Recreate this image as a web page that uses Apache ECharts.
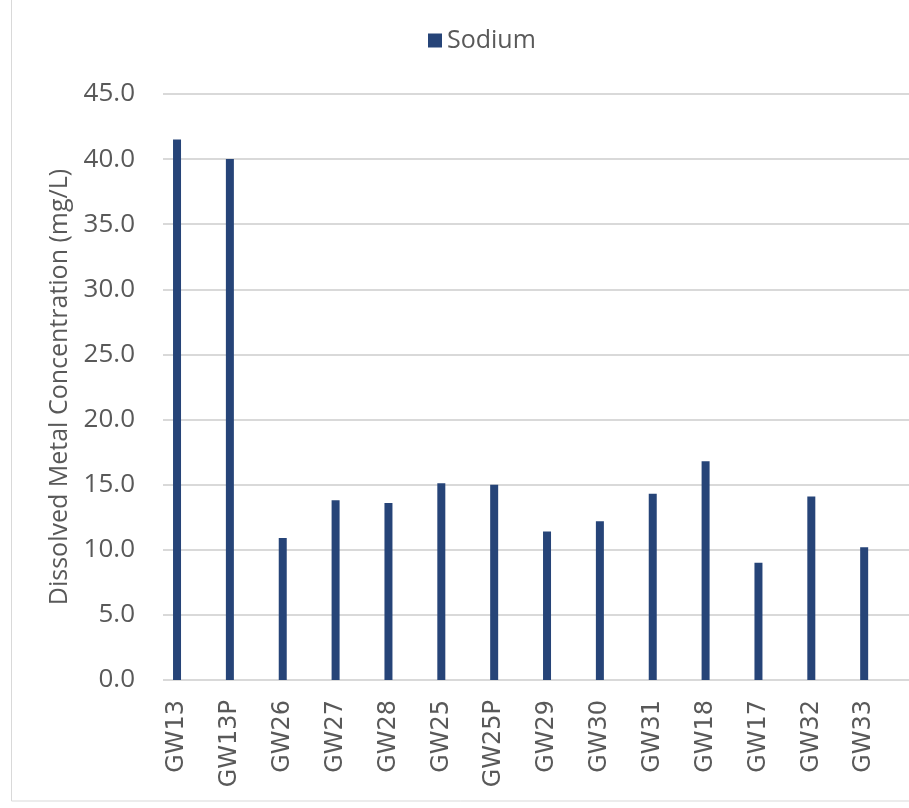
<!DOCTYPE html>
<html>
<head>
<meta charset="utf-8">
<title>Sodium</title>
<script src="https://cdn.jsdelivr.net/npm/echarts@6/dist/echarts.min.js"></script>
<style>
  html, body { margin: 0; padding: 0; background: #fff; }
  #chart { width: 909px; height: 808px; }
</style>
</head>
<body>
<div id="chart"></div>
<script>
// well ids along the x axis
const wells = ['GW13', 'GW13P', 'GW26', 'GW27', 'GW28', 'GW25', 'GW25P',
  'GW29', 'GW30', 'GW31', 'GW18', 'GW17', 'GW32', 'GW33'];
// dissolved sodium, mg/L
const sodium = [41.5, 40.0, 10.9, 13.8, 13.6, 15.1, 15.0,
  11.4, 12.2, 14.3, 16.8, 9.0, 14.1, 10.2];
const yMin = 0, yMax = 45, yStep = 5;

const grey = '#595959';
const chart = echarts.init(document.getElementById('chart'));

chart.setOption({
  animation: false,
  backgroundColor: '#fff',
  // chart frame (cropped on top and right like the source)
  graphic: [{
    type: 'rect',
    shape: { x: 11.5, y: -10, width: 940, height: 811 },
    style: { fill: 'none', stroke: '#d9d9d9', lineWidth: 1 },
    silent: true
  }],
  legend: {
    data: ['Sodium'],
    left: 423,
    top: 23,
    itemWidth: 14,
    itemHeight: 14,
    icon: 'rect',
    textStyle: { fontSize: 25, color: grey, fontFamily: 'Open Sans, sans-serif' }
  },
  grid: [
    // gridlines + value labels
    { left: 163, right: 0, top: 94, bottom: 128 },
    // bars + category labels
    { left: 150.6, width: 740, top: 94, bottom: 128 }
  ],
  xAxis: [
    { gridIndex: 0, type: 'value', show: false },
    {
      gridIndex: 1,
      type: 'category',
      data: wells,
      axisLine: { show: false },
      axisTick: { show: false },
      axisLabel: {
        rotate: 90,
        margin: 20,
        fontSize: 24,
        color: grey,
        fontFamily: 'DejaVu Sans, sans-serif'
      }
    }
  ],
  yAxis: [
    {
      gridIndex: 0,
      type: 'value',
      min: yMin,
      max: yMax,
      interval: yStep,
      name: 'Dissolved Metal Concentration (mg/L)',
      nameLocation: 'middle',
      nameGap: 89,
      nameTextStyle: { fontSize: 25, color: grey, fontFamily: 'Open Sans, sans-serif' },
      axisLine: { show: false },
      axisTick: { show: false },
      axisLabel: {
        margin: 28,
        fontSize: 26,
        color: grey,
        fontFamily: 'Open Sans, sans-serif',
        formatter: v => v.toFixed(1)
      },
      splitLine: { lineStyle: { color: '#d9d9d9', width: 2 } }
    },
    { gridIndex: 1, type: 'value', min: yMin, max: yMax, show: false }
  ],
  series: [{
    name: 'Sodium',
    type: 'bar',
    xAxisIndex: 1,
    yAxisIndex: 1,
    data: sodium,
    barWidth: 8,
    itemStyle: { color: '#264478' }
  }]
});
</script>
</body>
</html>
